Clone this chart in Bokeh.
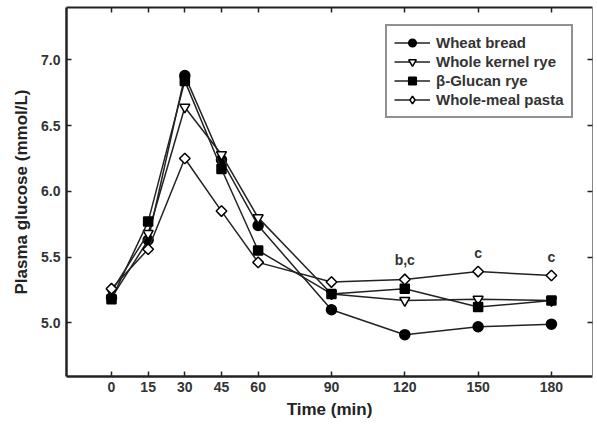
import math
from bokeh.plotting import figure
from bokeh.models import (LinearAxis, FixedTicker, PrintfTickFormatter, Range1d,
                          Legend, LegendItem, ColumnDataSource)
from bokeh.core.properties import value
from bokeh.embed import file_html
from bokeh.resources import INLINE

# ---- data ----
time_min = [0, 15, 30, 45, 60, 90, 120, 150, 180]
wheat_bread = [5.19, 5.63, 6.88, 6.24, 5.74, 5.10, 4.91, 4.97, 4.99]
whole_kernel_rye = [5.24, 5.68, 6.64, 6.28, 5.80, 5.22, 5.17, 5.18, 5.17]
beta_glucan_rye = [5.18, 5.77, 6.84, 6.17, 5.55, 5.22, 5.26, 5.12, 5.17]
whole_meal_pasta = [5.26, 5.56, 6.25, 5.85, 5.46, 5.31, 5.33, 5.39, 5.36]

series_names = ["Wheat bread", "Whole kernel rye", "\u03b2-Glucan rye", "Whole-meal pasta"]
x_ticks = [0, 15, 30, 45, 60, 90, 120, 150, 180]
y_ticks = [5.0, 5.5, 6.0, 6.5, 7.0]

ann_x = [120, 150, 180]
ann_y = [5.33, 5.39, 5.36]
ann_text = ["b,c", "c", "c"]

FONT = "Liberation Sans"
DARK = "#222222"
LABEL = "#333333"

p = figure(frame_width=526, frame_height=369,
           min_border_left=66, min_border_right=5, min_border_top=7, min_border_bottom=55,
           x_range=Range1d(-18.41, 196.8), y_range=Range1d(4.592, 7.398),
           output_backend="svg", toolbar_location=None, tools="")
p.outline_line_color = None
p.xgrid.visible = False
p.ygrid.visible = False
p.background_fill_color = "white"
p.border_fill_color = "white"

# bottom axis
xa = p.xaxis[0]
xa.ticker = FixedTicker(ticks=x_ticks)
xa.major_tick_in = 5
xa.major_tick_out = 0
xa.minor_tick_line_color = None
xa.axis_line_width = 2.5
xa.axis_line_color = DARK
xa.major_tick_line_color = DARK
xa.major_tick_line_width = 1.5
xa.major_label_text_font = FONT
xa.major_label_text_font_style = "bold"
xa.major_label_text_font_size = "14px"
xa.major_label_text_color = LABEL
xa.major_label_standoff = 5
xa.axis_label = "Time (min)"
xa.axis_label_text_font = FONT
xa.axis_label_text_font_style = "bold"
xa.axis_label_text_font_size = "17px"
xa.axis_label_text_color = DARK
xa.axis_label_standoff = 5

# left axis
ya = p.yaxis[0]
ya.ticker = FixedTicker(ticks=y_ticks)
ya.formatter = PrintfTickFormatter(format="%.1f")
ya.major_tick_in = 5
ya.major_tick_out = 0
ya.minor_tick_line_color = None
ya.axis_line_width = 2.5
ya.axis_line_color = DARK
ya.major_tick_line_color = DARK
ya.major_tick_line_width = 1.5
ya.major_label_text_font = FONT
ya.major_label_text_font_style = "bold"
ya.major_label_text_font_size = "14px"
ya.major_label_text_color = LABEL
ya.major_label_standoff = 6
ya.axis_label = "Plasma glucose (mmol/L)"
ya.axis_label_text_font = FONT
ya.axis_label_text_font_style = "bold"
ya.axis_label_text_font_size = "17px"
ya.axis_label_text_color = DARK
ya.axis_label_standoff = 7

# mirror axes (top, right)
top = LinearAxis(ticker=FixedTicker(ticks=x_ticks), major_tick_in=5, major_tick_out=0,
                 minor_tick_line_color=None, axis_line_width=2, axis_line_color=DARK,
                 major_tick_line_color=DARK, major_tick_line_width=1.5,
                 major_label_text_font_size="0px", major_label_text_alpha=0,
                 major_label_standoff=0)
p.add_layout(top, "above")
right = LinearAxis(ticker=FixedTicker(ticks=y_ticks), major_tick_in=5, major_tick_out=0,
                   minor_tick_line_color=None, axis_line_width=1, axis_line_color="#888888",
                   major_tick_line_color=DARK, major_tick_line_width=1.5,
                   major_label_text_font_size="0px", major_label_text_alpha=0,
                   major_label_standoff=0)
p.add_layout(right, "right")

styles = [
    dict(marker="circle", fill="black", size=10),
    dict(marker="inverted_triangle", fill="white", size=10),
    dict(marker="square", fill="black", size=9),
    dict(marker="diamond", fill="white", size=9),
]
data = [wheat_bread, whole_kernel_rye, beta_glucan_rye, whole_meal_pasta]

items = []
for name, ys, st in zip(series_names, data, styles):
    src = ColumnDataSource(dict(x=time_min, y=ys))
    ln = p.line("x", "y", source=src, line_color=DARK, line_width=1.5)
    sc = p.scatter("x", "y", source=src, marker=st["marker"], size=st["size"],
                   fill_color=st["fill"], line_color="black", line_width=1.5)
    rends = [ln, sc]
    if st["marker"] == "diamond":
        # equal-sided diamond drawn over the (legend) diamond
        p.scatter("x", "y", source=src, marker="square", size=7.5, angle=math.pi / 4,
                  fill_color="white", line_color="black", line_width=1.5)
    items.append(LegendItem(label=name, renderers=rends))

# significance annotations
asrc = ColumnDataSource(dict(x=ann_x, y=ann_y, t=ann_text))
p.text("x", "y", text="t", source=asrc, text_align="center", text_baseline="bottom",
       y_offset=-11, text_font=value(FONT), text_font_style="bold",
       text_font_size="14px", text_color=LABEL)

legend = Legend(items=items, location=(319, 258), orientation="vertical",
                border_line_color=DARK, border_line_width=2,
                padding=7, spacing=0, margin=0,
                label_height=19, glyph_height=19, glyph_width=36,
                label_standoff=6, label_width=128,
                label_text_font=FONT, label_text_font_style="bold",
                label_text_font_size="15px", label_text_color=LABEL,
                background_fill_color="white", background_fill_alpha=1)
p.add_layout(legend, "center")

open("out.html", "w").write(file_html(p, INLINE))
